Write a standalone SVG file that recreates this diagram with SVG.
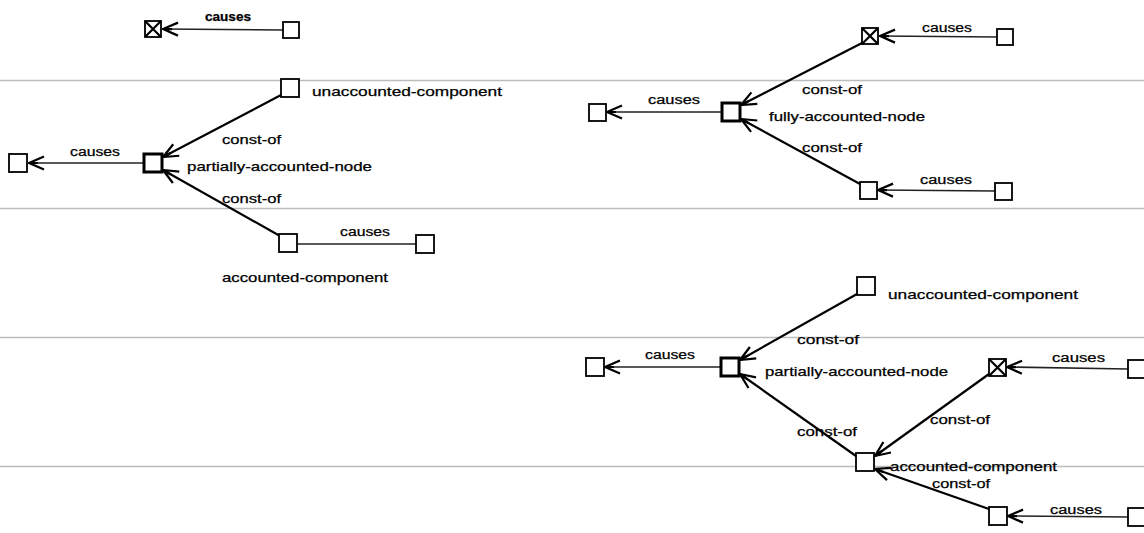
<svg xmlns="http://www.w3.org/2000/svg" width="1144" height="533" viewBox="0 0 1144 533">
<style>
.bg{fill:#ffffff}
.sep{stroke:#bcbcbc;stroke-width:1.5}
.box{fill:#ffffff;stroke:#000;stroke-width:1.8}
.thick{fill:#ffffff;stroke:#000;stroke-width:3}
.x{stroke:#000;stroke-width:2.2}
.cause{stroke:#222;stroke-width:1.6;fill:none}
.const{stroke:#000;stroke-width:2.2;fill:none}
text{font-family:"Liberation Sans",Arial,sans-serif;font-size:13px;fill:#000;stroke:#000;stroke-width:0.25}
.lbl{font-size:12.5px}
.b{font-weight:bold}
</style>
<defs>
<marker id="arr" viewBox="0 0 18 16" refX="17" refY="8" markerWidth="18" markerHeight="16" markerUnits="userSpaceOnUse" orient="auto">
<path d="M2,1.5 L17,8 L2,14.5 M17,8 L8,8" fill="none" stroke="#000" stroke-width="2.2"/>
</marker>
</defs>
<rect class="bg" x="0" y="0" width="1144" height="533"/>
<g id="separators">
<line class="sep" x1="0" y1="80.5" x2="1144" y2="80.5"/>
<line class="sep" x1="0" y1="208.5" x2="1144" y2="208.5"/>
<line class="sep" x1="0" y1="337.5" x2="1144" y2="337.5"/>
<line class="sep" x1="0" y1="466.5" x2="1144" y2="466.5"/>
</g>
<g id="connectors">
<line class="cause" x1="283" y1="30" x2="163" y2="29" marker-end="url(#arr)"/>
<line class="cause" x1="144" y1="163" x2="29" y2="163" marker-end="url(#arr)"/>
<line class="const" x1="281" y1="95" x2="163" y2="157" marker-end="url(#arr)"/>
<line class="const" x1="280" y1="236" x2="163" y2="170" marker-end="url(#arr)"/>
<line class="cause" x1="416" y1="244" x2="297" y2="244"/>
<line class="cause" x1="997" y1="37" x2="880" y2="36" marker-end="url(#arr)"/>
<line class="cause" x1="722" y1="112" x2="607" y2="112" marker-end="url(#arr)"/>
<line class="const" x1="862" y1="43" x2="741" y2="105" marker-end="url(#arr)"/>
<line class="const" x1="860" y1="184" x2="741" y2="119" marker-end="url(#arr)"/>
<line class="cause" x1="995" y1="191" x2="878" y2="190" marker-end="url(#arr)"/>
<line class="cause" x1="721" y1="367" x2="605" y2="367" marker-end="url(#arr)"/>
<line class="const" x1="857" y1="294" x2="740" y2="360" marker-end="url(#arr)"/>
<line class="const" x1="856" y1="456" x2="740" y2="374" marker-end="url(#arr)"/>
<line class="cause" x1="1128" y1="369" x2="1007" y2="367" marker-end="url(#arr)"/>
<line class="const" x1="989" y1="374" x2="875" y2="456" marker-end="url(#arr)"/>
<line class="const" x1="989" y1="509" x2="875" y2="469" marker-end="url(#arr)"/>
<line class="cause" x1="1128" y1="517" x2="1008" y2="516" marker-end="url(#arr)"/>
<text class="lbl b" x="205" y="21" textLength="46" lengthAdjust="spacingAndGlyphs">causes</text>
<text class="lbl" x="70" y="156" textLength="50" lengthAdjust="spacingAndGlyphs">causes</text>
<text class="lbl" x="222" y="144" textLength="59" lengthAdjust="spacingAndGlyphs">const-of</text>
<text class="lbl" x="222" y="203" textLength="59" lengthAdjust="spacingAndGlyphs">const-of</text>
<text class="lbl" x="340" y="236" textLength="50" lengthAdjust="spacingAndGlyphs">causes</text>
<text class="lbl" x="922" y="32" textLength="50" lengthAdjust="spacingAndGlyphs">causes</text>
<text class="lbl" x="648" y="104" textLength="52" lengthAdjust="spacingAndGlyphs">causes</text>
<text class="lbl" x="802" y="94" textLength="60" lengthAdjust="spacingAndGlyphs">const-of</text>
<text class="lbl" x="802" y="152" textLength="60" lengthAdjust="spacingAndGlyphs">const-of</text>
<text class="lbl" x="920" y="184" textLength="52" lengthAdjust="spacingAndGlyphs">causes</text>
<text class="lbl" x="645" y="359" textLength="50" lengthAdjust="spacingAndGlyphs">causes</text>
<text class="lbl" x="797" y="344" textLength="62" lengthAdjust="spacingAndGlyphs">const-of</text>
<text class="lbl" x="797" y="436" textLength="60" lengthAdjust="spacingAndGlyphs">const-of</text>
<text class="lbl" x="1052" y="362" textLength="53" lengthAdjust="spacingAndGlyphs">causes</text>
<text class="lbl" x="930" y="424" textLength="60" lengthAdjust="spacingAndGlyphs">const-of</text>
<text class="lbl" x="932" y="488" textLength="58" lengthAdjust="spacingAndGlyphs">const-of</text>
<text class="lbl" x="1050" y="514" textLength="52" lengthAdjust="spacingAndGlyphs">causes</text>
</g>
<g id="n_top_cross"><rect class="box" x="145" y="21" width="16" height="16"/><path class="x" d="M145,21 L161,37 M161,21 L145,37"/></g>
<g id="n_top_src"><rect class="box" x="283" y="22" width="16" height="16"/></g>
<g id="n_left_effect"><rect class="box" x="9" y="154" width="18" height="18"/></g>
<g id="n_left_partial"><rect class="thick" x="144" y="154" width="18" height="18"/><text x="187" y="171" textLength="185" lengthAdjust="spacingAndGlyphs">partially-accounted-node</text></g>
<g id="n_left_unacc"><rect class="box" x="281" y="79" width="18" height="18"/><text x="312" y="96" textLength="190" lengthAdjust="spacingAndGlyphs">unaccounted-component</text></g>
<g id="n_left_acc"><rect class="box" x="279" y="234" width="18" height="18"/><text x="222" y="282" textLength="166" lengthAdjust="spacingAndGlyphs">accounted-component</text></g>
<g id="n_left_acc_src"><rect class="box" x="416" y="235" width="18" height="18"/></g>
<g id="n_r_cross"><rect class="box" x="862" y="28" width="16" height="16"/><path class="x" d="M862,28 L878,44 M878,28 L862,44"/></g>
<g id="n_r_cross_src"><rect class="box" x="997" y="29" width="16" height="16"/></g>
<g id="n_r_full"><rect class="thick" x="722" y="103" width="18" height="18"/><text x="769" y="121" textLength="156" lengthAdjust="spacingAndGlyphs">fully-accounted-node</text></g>
<g id="n_r_effect"><rect class="box" x="589" y="104" width="17" height="17"/></g>
<g id="n_r_bot"><rect class="box" x="860" y="182" width="17" height="17"/></g>
<g id="n_r_bot_src"><rect class="box" x="995" y="183" width="17" height="17"/></g>
<g id="n_b_unacc"><rect class="box" x="857" y="277" width="18" height="18"/><text x="888" y="299" textLength="190" lengthAdjust="spacingAndGlyphs">unaccounted-component</text></g>
<g id="n_b_partial"><rect class="thick" x="721" y="358" width="18" height="18"/><text x="765" y="376" textLength="183" lengthAdjust="spacingAndGlyphs">partially-accounted-node</text></g>
<g id="n_b_effect"><rect class="box" x="586" y="358" width="18" height="18"/></g>
<g id="n_b_cross"><rect class="box" x="989" y="359" width="17" height="17"/><path class="x" d="M989,359 L1006,376 M1006,359 L989,376"/></g>
<g id="n_b_cross_src"><rect class="box" x="1128" y="360" width="18" height="18"/></g>
<g id="n_b_acc"><rect class="box" x="856" y="453" width="18" height="18"/><text x="890" y="471" textLength="167" lengthAdjust="spacingAndGlyphs">accounted-component</text></g>
<g id="n_b_bot"><rect class="box" x="989" y="507" width="18" height="18"/></g>
<g id="n_b_bot_src"><rect class="box" x="1128" y="508" width="18" height="18"/></g>
</svg>
